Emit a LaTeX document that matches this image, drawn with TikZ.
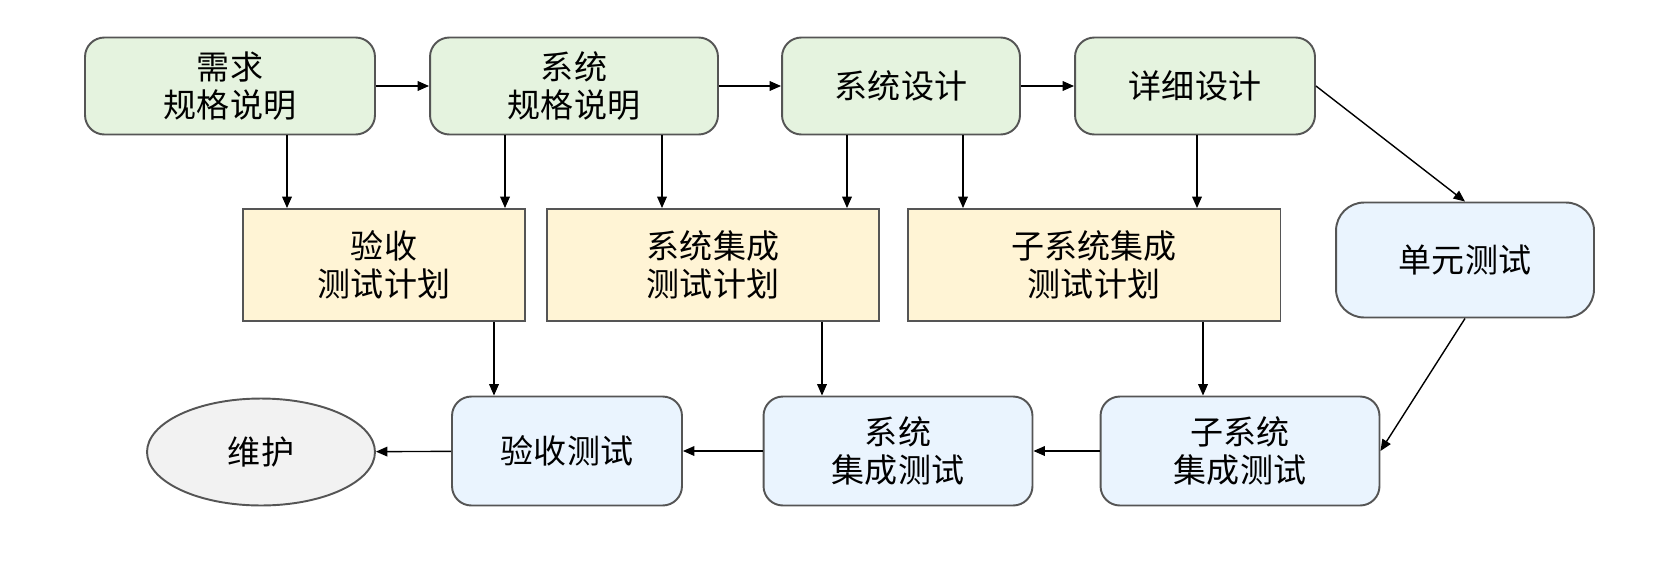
\documentclass[tikz,border=0pt]{standalone}
\usepackage{fontspec}
\setmainfont{Noto Sans CJK SC}
\usepackage{xcolor}
\usetikzlibrary{arrows.meta, shapes.geometric}
\definecolor{specgreen}{HTML}{E5F3DF}
\definecolor{plannote}{HTML}{FFF4D5}
\definecolor{testblue}{HTML}{EAF4FE}
\definecolor{maintgray}{HTML}{F2F2F2}
\definecolor{edgegray}{HTML}{555555}

\begin{document}
\begin{tikzpicture}[x=0.02cm, y=-0.02cm, >={Triangle[length=6.5pt,width=5.5pt]}, line width=0.8pt,
    every node/.style={font=\fontsize{18.8}{21.5}\selectfont, align=center, draw=edgegray, line width=1.1pt},
    spec/.style={rounded corners=11pt, fill=specgreen, minimum height=1.94cm},
    plan/.style={fill=plannote, minimum height=2.24cm},
    test/.style={rounded corners=11pt, fill=testblue, minimum height=2.18cm}]
    \useasboundingbox (0,0) rectangle (1669,585);

    % top row
    \node[spec, minimum width=5.8cm] (req) at (230,86) {需求\\规格说明};
    \node[spec, minimum width=5.76cm] (sysspec) at (574,86) {系统\\规格说明};
    \node[spec, minimum width=4.76cm] (sysdes) at (901,86) {系统设计};
    \node[spec, minimum width=4.8cm] (detail) at (1195,86) {详细设计};

    % plans
    \node[plan, minimum width=5.64cm] (accplan) at (384,265) {验收\\测试计划};
    \node[plan, minimum width=6.64cm] (intplan) at (713,265) {系统集成\\测试计划};
    \node[plan, minimum width=7.46cm] (subplan) at (1094,265) {子系统集成\\测试计划};
    \node[test, rounded corners=16pt, minimum width=5.16cm, minimum height=2.3cm] (unit) at (1465,260) {单元测试};

    % bottom row
    \node[ellipse, fill=maintgray, minimum width=4.56cm, minimum height=2.14cm] (maint) at (261,452) {维护};
    \node[test, minimum width=4.6cm] (acctest) at (567,451) {验收测试};
    \node[test, minimum width=5.38cm] (inttest) at (898,451) {系统\\集成测试};
    \node[test, minimum width=5.58cm] (subtest) at (1240,451) {子系统\\集成测试};

    \draw[->] (req) -- (sysspec);
    \draw[->] (sysspec) -- (sysdes);
    \draw[->] (sysdes) -- (detail);
    \draw[->] (detail.east) -- (unit.north);

    \draw[->] (req.south -| 287,0) -- (accplan.north -| 287,0);
    \draw[->] (sysspec.south -| 505,0) -- (accplan.north -| 505,0);
    \draw[->] (sysspec.south -| 662,0) -- (intplan.north -| 662,0);
    \draw[->] (sysdes.south -| 847,0) -- (intplan.north -| 847,0);
    \draw[->] (sysdes.south -| 963,0) -- (subplan.north -| 963,0);
    \draw[->] (detail.south -| 1197,0) -- (subplan.north -| 1197,0);

    \draw[->] (accplan.south -| 494,0) -- (acctest.north -| 494,0);
    \draw[->] (intplan.south -| 822,0) -- (inttest.north -| 822,0);
    \draw[->] (subplan.south -| 1203,0) -- (subtest.north -| 1203,0);
    \draw[->] (unit.south) -- (subtest.east);

    \draw[->] (subtest) -- (inttest);
    \draw[->] (inttest) -- (acctest);
    \draw[->] (acctest) -- (maint);
\end{tikzpicture}
\end{document}
